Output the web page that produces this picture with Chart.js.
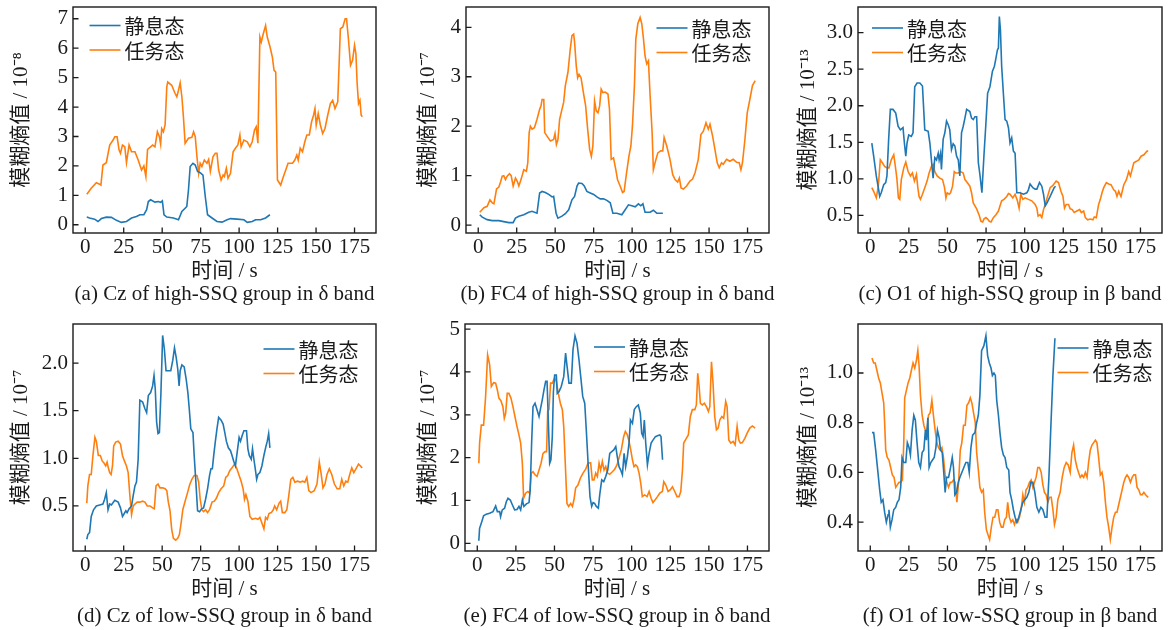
<!DOCTYPE html>
<html><head><meta charset="utf-8">
<script src="https://cdn.jsdelivr.net/npm/chart.js@4.4.0/dist/chart.umd.min.js"></script>
<style>
body{margin:0;background:#fff;width:1173px;height:630px;position:relative;overflow:hidden}
canvas{position:absolute}
.cap{position:absolute;font-family:"Liberation Serif","Times New Roman",serif;font-size:21px;white-space:nowrap;transform:translate(-50%,-50%);color:#1a1a1a}
</style></head><body>
<script>
// ---------- data ----------
const seriesLabels = ['静息态', '任务态'];
const xTicks = [0, 25, 50, 75, 100, 125, 150, 175];
const xLimits = [-7.95, 188.95];

const aRest = [[1,0.26],[2.8,0.23],[6.1,0.19],[8.3,0.11],[10.5,0.21],[13.7,0.26],[17,0.25],[20.3,0.15],[23.5,0.08],[26.8,0.11],[30.1,0.23],[33.3,0.28],[35.5,0.34],[38.1,0.34],[39.9,0.51],[41,0.79],[42.5,0.85],[45.3,0.77],[47.5,0.79],[49,0.76],[50.1,0.81],[51.2,0.34],[53,0.26],[57.3,0.23],[60.6,0.17],[62.8,0.45],[64.9,0.56],[66,0.62],[67.1,1.19],[68.2,1.98],[70,2.09],[71.5,2.03],[73,1.81],[74.7,1.77],[76.5,1.69],[78,0.96],[79.5,0.34],[82.4,0.23],[85.6,0.11],[88.9,0.09],[92.2,0.17],[94.4,0.21],[98.7,0.19],[103.1,0.17],[105.3,0.08],[108.5,0.11],[110.7,0.17],[114,0.17],[117.2,0.23],[120,0.34]];
const aTask = [[1,1.04],[3.9,1.24],[7.2,1.43],[9.4,1.38],[10.2,1.35],[11.5,2.03],[13.7,2.11],[15.9,2.71],[18.1,2.88],[19.2,2.99],[20.7,2.99],[22,2.54],[22.9,2.43],[24.2,2.71],[25.7,2.65],[26.8,2.11],[28.5,2.71],[30.1,2.48],[32.3,2.48],[34.4,2.2],[36.6,1.86],[38.1,2.0],[39.4,1.64],[40.5,2.56],[42.5,2.65],[43.8,2.71],[45.3,2.65],[46.9,3.16],[48.2,2.99],[49,2.74],[49.7,3.27],[50.8,3.16],[51.9,3.39],[53,4.69],[53.6,4.85],[56.2,4.74],[58.4,4.46],[59.5,4.35],[60.6,4.57],[61.7,4.82],[62.8,4.35],[63.8,3.67],[64.9,2.77],[67.1,2.94],[69.3,2.97],[70.4,3.16],[71.5,2.99],[72.6,2.31],[73.7,1.75],[74.7,2.09],[75.8,1.98],[77.4,2.2],[79.1,2.09],[80.2,2.22],[81.3,1.81],[83,2.31],[84.5,2.43],[85.6,2.43],[86.7,1.86],[88.3,1.52],[89.6,1.69],[90.4,1.64],[91.7,1.92],[92.8,1.58],[94.4,1.75],[96.1,2.48],[97.6,2.6],[99.2,2.71],[100.5,3.05],[101.3,2.65],[103.1,2.88],[105.3,2.82],[107,2.65],[108.5,2.82],[110,3.22],[111.1,3.33],[112.2,2.77],[113.5,6.38],[114.4,6.21],[115.7,6.49],[117.2,6.77],[118.3,6.38],[120.1,6.04],[121.6,5.7],[122.7,5.25],[123.8,5.19],[124.9,1.52],[127,1.35],[128.8,1.64],[130.3,1.86],[131.8,2.09],[134.7,2.09],[136.2,2.2],[137.5,2.37],[138.4,2.2],[139.7,2.6],[141.2,2.48],[142.7,2.82],[144,3.05],[145.6,3.05],[147.1,3.5],[148.4,3.73],[149.3,3.95],[150.1,3.39],[151.4,3.78],[152.8,3.39],[154.3,3.1],[155.8,3.27],[157.6,3.73],[159.3,4.12],[160.8,4.23],[162.3,3.95],[164.1,4.18],[165.8,6.66],[167.4,6.72],[168.9,7.0],[169.8,7.0],[171.1,6.27],[172.4,5.42],[173.7,5.59],[175,6.1],[175.9,5.81],[176.7,4.8],[177.6,4.12],[178.5,4.23],[179.3,3.73],[180,3.67]];

const bRest = [[1,0.21],[2.6,0.16],[5.8,0.11],[9.1,0.09],[13.4,0.09],[16.6,0.07],[19.9,0.05],[22.7,0.05],[24.2,0.14],[26.4,0.18],[29.6,0.21],[32.8,0.26],[35,0.28],[38.2,0.24],[39.9,0.65],[41.5,0.68],[43.6,0.66],[45.8,0.62],[48,0.57],[49,0.58],[50.6,0.24],[51.8,0.14],[54.4,0.18],[56.6,0.23],[58.8,0.31],[60.9,0.51],[62.6,0.58],[64.2,0.79],[65.2,0.85],[67.4,0.84],[68.9,0.79],[70.6,0.68],[72.8,0.65],[75,0.62],[77.1,0.57],[79.3,0.53],[81.4,0.53],[83.6,0.5],[85.8,0.45],[87.5,0.24],[90.1,0.24],[93.3,0.21],[95.5,0.31],[97.6,0.41],[99.8,0.39],[102,0.37],[104.1,0.43],[105.6,0.39],[107,0.43],[108.4,0.26],[111.7,0.26],[113.8,0.3],[116,0.24],[120,0.24]];
const bTask = [[1,0.26],[3.7,0.35],[5.8,0.38],[7.6,0.51],[9.1,0.45],[10.2,0.43],[11.9,0.73],[13.4,0.77],[14.5,0.87],[15.6,0.99],[16.6,1.0],[17.7,0.92],[18.8,0.99],[20.3,1.04],[21.4,1.0],[22.7,0.79],[24.2,0.95],[25.3,0.89],[26.4,0.79],[27.9,0.93],[29.6,1.12],[31.3,1.09],[32.2,1.26],[33.1,1.87],[33.9,2.0],[35,1.94],[36.5,1.97],[38.2,2.14],[39.9,2.34],[40.8,2.41],[41.5,2.54],[42.6,2.54],[43.2,1.87],[44.7,1.8],[46.9,1.7],[49,1.73],[49.9,1.85],[50.8,1.63],[51.8,1.73],[52.9,2.14],[54.4,2.34],[55.5,2.48],[56.6,2.82],[58.3,3.09],[59.8,3.56],[60.9,3.83],[62,3.86],[62.6,3.7],[63.7,3.22],[64.6,2.98],[65.5,3.05],[66.8,2.98],[68.5,2.65],[69.8,2.41],[71.1,1.94],[72.4,1.53],[73.5,1.39],[74.5,1.6],[75.6,2.51],[76.7,2.31],[77.8,2.27],[78.9,2.41],[79.9,2.75],[81,2.68],[82.5,2.69],[84.3,2.65],[85.3,2.34],[86.4,1.33],[87.9,1.36],[89.4,1.12],[90.5,0.92],[92.2,0.79],[93.8,0.66],[94.8,0.68],[96.1,0.99],[97.9,1.39],[99.2,1.6],[100.2,2.0],[101.5,2.82],[102.4,3.76],[103.7,4.07],[105.2,4.2],[106.3,4.07],[107.4,3.76],[108.4,3.42],[109.5,3.26],[110.6,3.32],[111.7,2.61],[113,1.87],[113.8,1.12],[114.9,1.26],[116.7,1.46],[118.6,1.5],[119.9,1.5],[120.8,1.77],[122.5,1.6],[124.6,1.33],[126.4,1.02],[127.9,0.92],[129.6,0.87],[130.7,0.95],[131.8,0.75],[133.3,0.73],[135.4,0.79],[137.6,0.89],[139.3,0.93],[140.9,1.06],[143,1.33],[144.7,1.83],[146.3,1.9],[148,2.07],[149.5,1.94],[150.6,2.04],[152.3,1.8],[153.8,1.53],[155.3,1.26],[156.6,1.16],[158.1,1.26],[159.2,1.23],[161.4,1.33],[163.5,1.29],[165.7,1.33],[167.9,1.27],[169.6,1.26],[170.7,1.12],[171.7,1.26],[173.3,1.73],[174.8,2.27],[176.5,2.54],[178.2,2.82],[180,2.92]];

const cRest = [[1,1.49],[2.2,1.31],[3.9,1.04],[5.2,0.88],[6.1,0.76],[7.1,0.81],[8.7,0.92],[10,0.95],[10.8,1.04],[11.9,1.54],[13,1.95],[14.7,1.95],[16.5,1.9],[18,1.72],[19.5,1.67],[21.2,1.7],[22.1,1.49],[23,1.31],[23.8,1.49],[24.9,1.6],[26.6,1.58],[27.7,1.63],[28.8,2.26],[30.3,2.31],[32.1,2.31],[33.8,2.27],[35.3,1.67],[37.5,1.65],[38.6,1.49],[39.6,1.26],[40.7,1.01],[41.8,1.29],[42.9,1.26],[44,1.35],[44.6,1.26],[45.5,1.35],[46.1,1.13],[47.2,1.54],[48.3,1.63],[49.4,1.79],[50.5,1.74],[51.5,1.67],[52.6,1.4],[53.7,1.48],[54.8,1.45],[55.9,1.31],[57,1.26],[58,1.04],[59.1,1.63],[60.2,1.72],[61.3,1.83],[62.4,1.95],[64.5,1.92],[65.6,1.83],[66.7,1.81],[67.8,1.85],[68.9,1.85],[70,1.22],[71,1.06],[72.3,0.81],[73.6,1.31],[74.9,1.76],[76,2.17],[77.5,2.26],[79.1,2.47],[80.4,2.54],[81.4,2.65],[82.3,2.76],[83,2.79],[83.6,3.22],[84.3,3.04],[85.1,2.54],[86.2,2.17],[87.3,1.81],[88.4,1.79],[89.5,1.7],[90.5,1.49],[91.6,1.56],[92.7,1.38],[93.8,1.35],[94.9,0.81],[97,0.81],[99.2,0.79],[101.4,0.81],[102.4,0.85],[103.5,0.93],[105.3,0.88],[106.8,0.86],[107.9,0.86],[109.6,0.95],[111.1,0.9],[112.2,0.79],[113.3,0.63],[114.4,0.67],[116.5,0.76],[119.1,0.88],[120,0.9]];
const cTask = [[1,0.88],[2.2,0.83],[3.9,0.74],[5.2,0.9],[6.5,1.26],[7.8,1.22],[9.3,1.17],[10.8,1.15],[12.1,1.15],[13.6,1.26],[15.2,1.33],[16.5,1.13],[17.3,0.99],[18.2,0.74],[19.1,0.72],[20.1,0.99],[21.7,1.15],[23,1.23],[24.5,1.1],[26,1.04],[27.3,1.08],[28.6,0.97],[29.9,1.06],[30.8,0.88],[31.6,0.76],[32.5,0.72],[33.8,0.79],[35.3,0.88],[36.8,0.97],[38.1,1.08],[39.6,1.17],[40.7,1.2],[41.8,1.1],[43.3,1.04],[45,1.01],[46.8,0.99],[48.1,0.88],[49,0.74],[49.8,0.81],[51.1,0.79],[52,0.81],[53.3,0.9],[54.4,1.1],[55.4,1.08],[57,1.08],[58.5,1.1],[60.2,1.08],[61.3,0.99],[62.8,0.95],[64.5,0.9],[65.6,0.81],[66.7,0.67],[68.9,0.59],[70.6,0.5],[71.7,0.42],[72.8,0.41],[73.6,0.45],[74.9,0.47],[76,0.45],[77.1,0.42],[78.2,0.41],[79.7,0.47],[81.4,0.51],[83,0.56],[84,0.63],[85.1,0.7],[86.6,0.72],[88.4,0.76],[89.5,0.8],[90.5,0.79],[92.3,0.74],[93.8,0.79],[95.3,0.7],[96.4,0.6],[97.5,0.79],[98.8,0.72],[100.3,0.74],[102.4,0.72],[104.6,0.7],[106.8,0.65],[107.9,0.6],[108.7,0.49],[110,0.51],[111.1,0.47],[112.2,0.58],[113.3,0.65],[114.8,0.76],[116.5,0.88],[118.3,0.91],[120.4,0.97],[121.9,0.95],[123.5,0.83],[124.8,0.76],[125.8,0.6],[126.9,0.65],[128.4,0.65],[129.5,0.59],[130.8,0.58],[132.1,0.54],[133.8,0.56],[135.6,0.58],[136.7,0.54],[138.2,0.56],[139.3,0.47],[140.8,0.44],[142.5,0.45],[144.2,0.44],[145.1,0.48],[146.4,0.47],[147.9,0.65],[149,0.72],[150.1,0.81],[151.2,0.88],[152.9,0.95],[154.4,0.93],[155.9,0.92],[157.7,0.85],[158.8,0.83],[159.8,0.76],[160.9,0.83],[162.4,0.76],[164.2,0.92],[165.9,0.99],[167.4,1.1],[168.5,1.04],[169.6,1.13],[170.7,1.22],[172.4,1.24],[173.9,1.26],[175.4,1.31],[177.2,1.33],[179.3,1.38],[180,1.38]];

const dRest = [[1,0.15],[1.7,0.2],[2.8,0.22],[3.9,0.39],[5.4,0.46],[7.2,0.5],[9.4,0.51],[11.5,0.52],[12.6,0.57],[13.7,0.64],[14.8,0.46],[15.9,0.52],[17,0.51],[19.2,0.56],[21.4,0.54],[22.9,0.48],[24.2,0.39],[25,0.41],[26.4,0.45],[27.2,0.43],[28.5,0.47],[30.1,0.5],[31.2,0.61],[32.3,0.71],[33.3,0.75],[34.4,0.99],[35.5,1.61],[37.3,1.59],[38.8,1.52],[39.9,1.48],[41,1.66],[42.5,1.69],[43.8,1.76],[44.7,1.87],[45.5,1.73],[46.4,1.38],[47.3,1.26],[48.2,1.27],[49.2,1.69],[50.3,2.29],[51.4,2.15],[52.5,1.92],[54,1.92],[55.6,1.92],[56.9,2.03],[58,2.16],[59.1,2.06],[60.1,1.94],[61,1.76],[61.7,1.92],[62.8,1.98],[64.3,1.96],[65.6,1.83],[66.7,1.69],[67.6,1.52],[68.6,1.31],[70,1.27],[70.8,1.03],[71.9,0.75],[73,0.45],[74.3,0.44],[75.6,0.47],[76.9,0.48],[78.2,0.57],[79.5,0.68],[80.8,0.82],[81.7,0.89],[82.6,0.89],[83.5,1.03],[84.5,1.17],[85.6,1.31],[86.7,1.43],[88.3,1.4],[89.6,1.36],[90.7,1.27],[91.7,1.18],[93,1.11],[94.4,1.08],[95.4,1.03],[96.5,0.97],[97.6,0.92],[98.7,1.06],[100,1.22],[100.9,1.18],[102,1.24],[103.1,1.29],[104.8,1.29],[105.7,1.1],[106.6,1.03],[107.9,0.99],[108.7,1.1],[109.6,0.99],[110.5,0.89],[111.4,0.78],[112.2,0.83],[113.5,0.85],[114.8,0.92],[116.1,1.03],[117.5,1.13],[118.3,1.18],[119.2,1.26],[120,1.11]];
const dTask = [[1,0.53],[1.7,0.71],[2.8,0.83],[3.9,0.83],[5,1.03],[6.3,1.22],[7.2,1.18],[8.5,1.03],[9.8,1.03],[11.1,0.97],[12.2,0.95],[13.3,0.92],[14.2,0.96],[15,0.9],[15.9,0.85],[16.8,0.83],[17.7,0.92],[18.5,1.13],[19.8,1.17],[21.4,1.18],[22.9,1.15],[24.2,1.03],[25.5,0.97],[26.8,0.92],[27.9,0.85],[29,0.61],[30.1,0.41],[31.2,0.5],[32.3,0.52],[33.8,0.54],[35.5,0.54],[37.3,0.55],[38.8,0.54],[40.3,0.5],[42.1,0.5],[43.8,0.48],[44.9,0.47],[46,0.71],[47.3,0.73],[48.6,0.69],[50.3,0.69],[51.9,0.68],[53,0.66],[54,0.54],[55.1,0.45],[56.2,0.25],[57.3,0.16],[58.8,0.14],[60.1,0.16],[61.2,0.2],[62.3,0.32],[63.4,0.46],[64.9,0.55],[66.5,0.64],[67.8,0.72],[69.3,0.78],[70.8,0.82],[72.6,0.82],[73.7,0.75],[74.7,0.57],[75.8,0.46],[76.9,0.44],[78.2,0.46],[79.5,0.43],[80.8,0.46],[82.4,0.54],[83.9,0.55],[85.2,0.58],[86.7,0.64],[88.3,0.68],[90,0.71],[91.3,0.8],[92.6,0.82],[93.9,0.87],[95.4,0.9],[97,0.94],[98.3,0.9],[99.8,0.83],[101.3,0.76],[102.6,0.68],[103.5,0.57],[104.4,0.62],[105.7,0.55],[107,0.39],[108.5,0.36],[110.7,0.37],[112.2,0.36],[113.5,0.38],[114.8,0.32],[116.1,0.26],[117.2,0.38],[118.3,0.36],[119.4,0.42],[120.9,0.43],[122.2,0.46],[123.1,0.5],[124.4,0.46],[126,0.53],[127,0.55],[128.1,0.43],[129.7,0.43],[131,0.46],[132.3,0.61],[133.6,0.78],[134.9,0.8],[136.2,0.75],[137.9,0.76],[139.7,0.75],[141.2,0.76],[142.7,0.75],[144,0.8],[145.3,0.66],[146.7,0.64],[148.8,0.66],[150.6,0.73],[152.1,0.96],[153.2,0.85],[154.5,0.69],[155.8,0.73],[157.1,0.83],[158.6,0.89],[160.2,0.83],[161.9,0.73],[163.7,0.68],[165.4,0.68],[166.7,0.78],[168,0.71],[169.3,0.76],[170.6,0.75],[171.7,0.82],[173.2,0.9],[174.5,0.85],[175.9,0.89],[177.6,0.94],[180,0.9]];

const eRest = [[1,0.06],[1.5,0.35],[2.6,0.47],[4.1,0.64],[5.8,0.68],[8,0.7],[10.2,0.74],[11.9,0.87],[13,0.74],[14.5,0.74],[15.1,0.62],[16.2,0.78],[17.7,0.82],[18.8,0.97],[19.9,1.05],[21.4,1.01],[22.7,0.9],[24.2,0.78],[25.7,0.79],[27,0.86],[28.1,0.78],[29.2,1.01],[30.2,0.86],[31.8,0.92],[33.5,0.95],[34.3,1.25],[35.2,2.34],[36.1,3.19],[37.4,3.27],[38.7,3.12],[40,2.96],[41,3.15],[42.1,3.35],[43.2,3.58],[44.3,3.78],[45.2,3.78],[46,2.88],[46.9,1.87],[47.7,1.95],[48.6,2.49],[49.3,3.54],[50.1,3.93],[51.2,3.93],[51.8,3.5],[52.9,3.54],[54.4,3.66],[56,3.89],[57.2,4.44],[58.3,4.09],[59.4,3.74],[60.9,3.74],[62,4.52],[63.3,4.84],[64.6,4.67],[65.9,4.28],[67.2,3.82],[68.3,3.43],[69.6,3.27],[70.6,2.65],[71.9,1.79],[73,1.09],[74.1,0.86],[75,0.95],[76,0.93],[77.1,0.86],[78.4,0.82],[79.3,1.13],[80.6,1.48],[81.9,1.44],[83.2,1.56],[84.5,1.71],[85.8,2.1],[87.1,2.14],[88.4,2.18],[89.7,2.26],[90.7,2.02],[91.8,1.79],[92.9,1.71],[94,1.6],[95.1,2.1],[96.1,1.79],[97.2,2.02],[98.3,2.34],[99.2,2.88],[100.5,2.8],[101.7,3.12],[103,3.19],[104.3,3.23],[105.6,3.04],[106.5,2.57],[107.4,2.49],[108.2,2.88],[109.1,2.34],[110.2,1.83],[111.3,2.1],[112.6,2.34],[113.8,2.41],[115.4,2.49],[116.7,2.51],[118.2,2.53],[119,2.49],[120,1.95]];
const eTask = [[1,1.87],[1.5,2.34],[2.6,2.76],[4.1,2.76],[5.4,3.43],[6.7,4.4],[8,4.17],[9.1,3.66],[10.6,3.75],[11.9,3.74],[13,3.58],[14,3.39],[15.3,3.33],[16.6,3.19],[17.5,2.92],[18.4,3.04],[19.4,3.5],[20.5,3.5],[21.8,3.39],[23.1,3.19],[24.4,2.96],[25.7,2.73],[27,2.53],[28.1,2.34],[29.2,1.87],[30,1.05],[31.3,1.17],[32.8,1.21],[33.9,1.17],[35,1.64],[36.1,1.67],[37.4,1.6],[38.7,1.56],[40,1.71],[41.3,1.87],[42.6,2.1],[43.9,2.14],[44.9,2.14],[45.6,3.08],[46.4,3.12],[47.5,3.74],[48.6,3.74],[50.1,3.86],[51.2,3.78],[52.5,3.5],[53.8,3.27],[55.1,3.12],[56,2.73],[57,1.87],[58.1,0.93],[59.2,0.86],[60.5,0.93],[61.6,0.86],[62.6,1.01],[63.7,1.29],[65.2,1.36],[66.8,1.52],[68.5,1.64],[70.2,1.73],[71.7,1.87],[73.4,1.88],[74.5,1.48],[75.6,1.48],[76.7,1.64],[77.8,1.56],[78.9,1.87],[79.9,1.71],[81,1.91],[82.1,1.71],[83.2,1.79],[84.3,1.64],[85.8,1.61],[87.5,1.67],[89,1.73],[90.5,1.83],[91.8,1.99],[93.3,2.18],[94.8,2.49],[95.9,2.61],[97.2,2.53],[98.3,2.38],[99.4,2.18],[100.5,1.95],[101.5,1.79],[102.6,1.83],[103.7,1.79],[104.8,1.64],[105.9,1.4],[106.9,1.09],[108.4,1.13],[110,1.09],[111.3,1.21],[112.6,1.05],[113.8,0.95],[115.1,1.01],[116.7,1.09],[118.2,1.17],[119.9,1.21],[120.8,1.44],[122.1,1.36],[123.6,1.21],[125.1,1.25],[126.4,1.32],[127.9,1.21],[129.4,1.09],[130.7,1.09],[131.8,1.21],[132.9,1.71],[133.7,2.34],[135.4,2.45],[136.7,2.53],[138,2.96],[139.3,3.12],[140.9,3.12],[141.9,3.23],[142.8,3.97],[143.7,3.66],[144.5,3.27],[145.8,3.23],[147.1,3.27],[148.4,3.19],[149.7,3.08],[150.6,3.19],[151.7,4.24],[152.7,3.74],[153.8,2.96],[154.9,2.65],[156,2.69],[157.1,2.88],[158.4,2.96],[159.6,2.92],[160.9,3.31],[161.8,3.19],[162.9,2.41],[164.2,2.34],[165.7,2.38],[167,2.3],[168.3,2.73],[169.4,2.41],[170.4,2.34],[171.7,2.35],[173.3,2.45],[174.8,2.57],[176.5,2.69],[178.2,2.74],[180,2.69]];

const fRest = [[1.1,0.76],[2.2,0.76],[3.5,0.69],[4.8,0.61],[6.1,0.53],[7.1,0.48],[8.2,0.49],[9.3,0.44],[10.4,0.4],[11.5,0.43],[12.1,0.45],[13,0.38],[14.1,0.41],[15.2,0.45],[16.5,0.46],[17.5,0.48],[18.6,0.49],[19.7,0.54],[20.6,0.66],[21.7,0.64],[23,0.64],[24,0.72],[25.1,0.7],[26,0.67],[27.1,0.77],[28.2,0.83],[29.2,0.81],[30.3,0.72],[31.4,0.64],[32.5,0.62],[33.6,0.68],[34.7,0.69],[35.7,0.77],[36.4,0.73],[37.3,0.82],[38.1,0.62],[39.2,0.64],[40.3,0.65],[41.4,0.66],[42.5,0.7],[43.5,0.77],[44.6,0.74],[45.5,0.69],[46.6,0.68],[47.6,0.6],[48.5,0.52],[49.4,0.58],[50.7,0.58],[52,0.62],[53.1,0.66],[53.9,0.62],[54.8,0.51],[55.9,0.52],[57,0.56],[58,0.58],[59.3,0.6],[60.6,0.62],[61.9,0.64],[63.2,0.64],[64.1,0.6],[65.2,0.7],[66.3,0.75],[67.8,0.76],[68.9,0.8],[70,0.83],[71,0.91],[72.1,1.09],[73.6,1.11],[74.9,1.15],[76,1.07],[77.1,1.04],[78.2,1.02],[79.1,0.99],[80.1,1.0],[81,0.99],[81.9,0.89],[83,0.83],[84,0.76],[85.1,0.7],[86.2,0.67],[87.3,0.66],[88.4,0.62],[89.7,0.61],[90.5,0.52],[91.6,0.49],[92.7,0.45],[93.8,0.42],[94.9,0.4],[96.2,0.42],[97.5,0.45],[98.8,0.48],[100.1,0.49],[101.4,0.5],[102.7,0.52],[104,0.56],[105.3,0.56],[106.6,0.52],[107.9,0.46],[109.2,0.44],[110.5,0.46],[111.8,0.45],[113.2,0.42],[114.4,0.42],[115.7,0.58],[117,0.79],[118.3,0.99],[119.6,1.14]];
const fTask = [[1.1,1.06],[2.2,1.04],[3.2,1.04],[4.3,1.01],[5.4,0.98],[6.5,0.96],[7.6,0.92],[8.7,0.88],[9.3,0.8],[10,0.69],[11,0.66],[12.1,0.65],[13.2,0.62],[14.3,0.59],[15.4,0.58],[16.5,0.54],[17.5,0.55],[18.6,0.56],[19.7,0.56],[20.8,0.57],[21.7,0.72],[22.3,0.9],[23.4,0.93],[24.5,0.96],[25.6,0.98],[26.6,1.01],[27.7,1.04],[28.8,1.02],[29.9,1.05],[30.8,1.09],[31.6,1.03],[32.5,0.91],[33.6,0.83],[34.7,0.79],[35.7,0.77],[36.8,0.77],[37.7,0.83],[38.8,0.84],[39.9,0.89],[40.9,0.83],[42,0.77],[43.1,0.72],[44.2,0.7],[45.3,0.69],[46.4,0.7],[47.4,0.66],[48.5,0.59],[49.6,0.56],[50.7,0.54],[51.8,0.56],[52.8,0.56],[53.9,0.57],[55,0.56],[56.1,0.48],[57.2,0.56],[58.3,0.69],[59.3,0.72],[60.4,0.79],[61.5,0.79],[62.6,0.87],[63.7,0.88],[64.8,0.9],[65.8,0.88],[66.9,0.84],[68,0.8],[68.9,0.68],[70,0.61],[71,0.54],[72.1,0.52],[73.2,0.53],[74.1,0.44],[75.2,0.37],[76.2,0.35],[77.3,0.33],[78.4,0.38],[79.5,0.42],[80.6,0.42],[81.7,0.45],[82.7,0.45],[83.8,0.4],[84.9,0.38],[86,0.38],[87.1,0.41],[88.2,0.42],[89,0.48],[90.1,0.42],[91.2,0.4],[92.3,0.41],[93.4,0.39],[94.4,0.41],[95.5,0.4],[96.6,0.42],[97.7,0.45],[98.8,0.51],[99.8,0.48],[100.9,0.53],[102,0.54],[103.1,0.56],[104.2,0.57],[105.3,0.54],[106.3,0.56],[107.4,0.58],[108.5,0.62],[109.6,0.62],[110.7,0.6],[111.8,0.55],[112.8,0.52],[113.9,0.51],[115,0.48],[116.1,0.5],[117.2,0.5],[118.3,0.45],[119.3,0.39],[120.4,0.42],[121.5,0.49],[123,0.52],[124.3,0.58],[125.6,0.62],[126.9,0.64],[128.2,0.63],[129.5,0.6],[130.6,0.68],[131.7,0.71],[132.8,0.65],[133.9,0.62],[134.9,0.6],[136,0.58],[137.1,0.59],[138.2,0.58],[139.3,0.6],[140.4,0.58],[141.4,0.64],[142.5,0.69],[143.6,0.71],[144.7,0.72],[145.8,0.73],[146.8,0.72],[147.9,0.66],[149,0.59],[150.1,0.6],[151.2,0.56],[152.3,0.48],[153.3,0.42],[154.4,0.38],[155.5,0.33],[156.6,0.38],[157.7,0.42],[158.8,0.44],[159.8,0.44],[160.9,0.47],[162,0.5],[163.1,0.53],[164.2,0.56],[165.3,0.58],[166.3,0.59],[167.4,0.58],[168.5,0.56],[169.6,0.58],[170.7,0.59],[171.8,0.59],[172.8,0.54],[173.9,0.53],[175,0.51],[176.1,0.51],[177.2,0.52],[178.3,0.51],[180,0.5]];

const aYTicks = [0, 1, 2, 3, 4, 5, 6, 7];
const bYTicks = [0, 1, 2, 3, 4];
const cYTicks = [0.5, 1.0, 1.5, 2.0, 2.5, 3.0];
const dYTicks = [0.5, 1.0, 1.5, 2.0];
const eYTicks = [0, 1, 2, 3, 4, 5];
const fYTicks = [0.4, 0.6, 0.8, 1.0];

const captions = [
  '(a) Cz of high-SSQ group in δ band',
  '(b) FC4 of high-SSQ group in δ band',
  '(c) O1 of high-SSQ group in β band',
  '(d) Cz of low-SSQ group in δ band',
  '(e) FC4 of low-SSQ group in δ band',
  '(f) O1 of low-SSQ group in β band'
];
const yTitles = ['模糊熵值 / 10⁻⁸', '模糊熵值 / 10⁻⁷', '模糊熵值 / 10⁻¹³', '模糊熵值 / 10⁻⁷', '模糊熵值 / 10⁻⁷', '模糊熵值 / 10⁻¹³'];
const xTitle = '时间 / s';

// ---------- layout (not data) ----------
const COLORS = ['#1f77b4', '#ff7f0e'];
const INK = '#1a1a1a';
const PADL = 72, PADT = 20, PADR = 20, PADB = 52;
const panels = [
  {rest:aRest, task:aTask, yt:aYTicks, dec:0, yr:[-0.28,7.4],  area:[73,7,376,233],    ytOff:52, leg:[16.5,18.5], capY:293},
  {rest:bRest, task:bTask, yt:bYTicks, dec:0, yr:[-0.16,4.41], area:[466,7,769,233],   ytOff:38, leg:[190.5,21],  capY:293},
  {rest:cRest, task:cTask, yt:cYTicks, dec:1, yr:[0.26,3.35],  area:[858,7,1162,233],  ytOff:50, leg:[14,21],     capY:293},
  {rest:dRest, task:dTask, yt:dYTicks, dec:1, yr:[0.027,2.41], area:[73,324,376,551],  ytOff:52, leg:[190.5,25],  capY:615},
  {rest:eRest, task:eTask, yt:eYTicks, dec:0, yr:[-0.18,5.12], area:[465,324,769,551], ytOff:37, leg:[129,23],    capY:615},
  {rest:fRest, task:fTask, yt:fYTicks, dec:1, yr:[0.284,1.197],area:[858,324,1162,551],ytOff:50, leg:[199.5,24],  capY:615}
];

const TICK_FONT = {family:'"Liberation Serif","Times New Roman",serif', size:21};
const TITLE_SIZE = 21, TITLE_LH = 1.2;
const TITLE_FONT = {family:'"Liberation Serif","Noto Sans CJK SC",serif', size:TITLE_SIZE, lineHeight:TITLE_LH};
const HALF_LH = TITLE_SIZE * TITLE_LH / 2;
const LEG_FONT = '20px "Noto Sans CJK SC", sans-serif';

const framePlugin = {
  id:'frameTicks',
  afterDatasetsDraw(chart){
    const {ctx, chartArea:a, scales:{x, y}} = chart;
    ctx.save();
    ctx.strokeStyle = INK; ctx.lineWidth = 1.3;
    ctx.beginPath();
    x.ticks.forEach(t => { const p = x.getPixelForValue(t.value); ctx.moveTo(p, a.bottom); ctx.lineTo(p, a.bottom - 5.5); });
    y.ticks.forEach(t => { const p = y.getPixelForValue(t.value); ctx.moveTo(a.left, p); ctx.lineTo(a.left + 5.5, p); });
    ctx.stroke();
    ctx.lineWidth = 1.4;
    ctx.strokeRect(a.left, a.top, a.right - a.left, a.bottom - a.top);
    ctx.restore();
  },
  afterDraw(chart){
    const {ctx, chartArea:a} = chart;
    const leg = chart.options.plugins.frameTicks.leg;
    ctx.save();
    ctx.font = LEG_FONT; ctx.textBaseline = 'middle'; ctx.textAlign = 'left';
    chart.data.datasets.forEach((ds, i) => {
      const y0 = a.top + leg[1] + i * 24.5;
      const x0 = a.left + leg[0];
      ctx.strokeStyle = ds.borderColor; ctx.lineWidth = 1.6;
      ctx.beginPath(); ctx.moveTo(x0, y0); ctx.lineTo(x0 + 31, y0); ctx.stroke();
      ctx.fillStyle = INK; ctx.fillText(ds.label, x0 + 35, y0 + 1);
    });
    ctx.restore();
  }
};

panels.forEach((p, idx) => {
  const [L, T, R, B] = p.area;
  const cv = document.createElement('canvas');
  const w = R - L + PADL + PADR, h = B - T + PADT + PADB;
  cv.width = w; cv.height = h;
  cv.style.left = (L - PADL) + 'px'; cv.style.top = (T - PADT) + 'px';
  cv.style.width = w + 'px'; cv.style.height = h + 'px';
  document.body.appendChild(cv);

  const cap = document.createElement('div');
  cap.className = 'cap'; cap.textContent = captions[idx];
  cap.style.left = ((L + R) / 2) + 'px'; cap.style.top = p.capY + 'px';
  document.body.appendChild(cap);

  const toPts = arr => arr.map(([x, y]) => ({x, y}));
  new Chart(cv, {
    type: 'line',
    data: {
      datasets: [
        {label: seriesLabels[0], data: toPts(p.rest), borderColor: COLORS[0], borderWidth: 1.6, pointRadius: 0, tension: 0, fill: false},
        {label: seriesLabels[1], data: toPts(p.task), borderColor: COLORS[1], borderWidth: 1.6, pointRadius: 0, tension: 0, fill: false}
      ]
    },
    options: {
      responsive: false, animation: false, devicePixelRatio: 1,
      layout: {padding: {left: 0, top: PADT, right: PADR, bottom: 0}},
      plugins: {legend: {display: false}, tooltip: {enabled: false}, frameTicks: {leg: p.leg}},
      scales: {
        x: {
          type: 'linear', min: xLimits[0], max: xLimits[1],
          grid: {display: false, drawTicks: false}, border: {display: false},
          afterBuildTicks: s => { s.ticks = xTicks.map(v => ({value: v})); },
          afterFit: s => { s.height = PADB; },
          ticks: {font: TICK_FONT, color: INK, padding: 2, maxRotation: 0, autoSkip: false, callback: v => String(v)},
          title: {display: true, text: xTitle, font: TITLE_FONT, color: INK, padding: {top: 0, bottom: PADB - 38.4 - HALF_LH}}
        },
        y: {
          type: 'linear', min: p.yr[0], max: p.yr[1],
          grid: {display: false, drawTicks: false}, border: {display: false},
          afterBuildTicks: s => { s.ticks = p.yt.map(v => ({value: v})); },
          afterFit: s => { s.width = PADL; },
          ticks: {font: TICK_FONT, color: INK, padding: 5, autoSkip: false, callback: v => v.toFixed(p.dec)},
          title: {display: true, text: yTitles[idx], font: TITLE_FONT, color: INK, padding: {top: PADL - p.ytOff - HALF_LH, bottom: 0}}
        }
      }
    },
    plugins: [framePlugin]
  });
});
</script>
</body></html>
